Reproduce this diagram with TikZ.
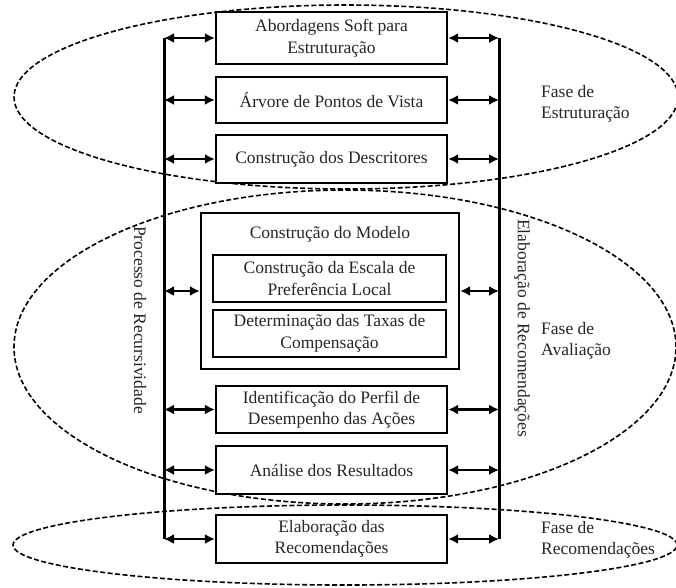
\documentclass[tikz,border=0pt]{standalone}
\usepackage{fontspec}
\setmainfont{Liberation Serif}
\usetikzlibrary{arrows.meta}

\begin{document}
\begin{tikzpicture}[x=1pt,y=-1pt,
  txt/.style={font=\fontsize{17.5}{21.5}\selectfont, text=black!85},
  box/.style={txt, draw=black, line width=2.2pt, fill=white, minimum width=231pt,
    align=center, inner sep=0pt},
  phase/.style={dash pattern=on 5pt off 2.5pt, line width=1.6pt},
  link/.style={{Latex[length=10pt,width=10pt]}-{Latex[length=10pt,width=10pt]},
    line width=2.6pt},
  rail/.style={line width=3pt},
  lbl/.style={txt, align=left, inner sep=0pt}
]
\useasboundingbox (0,0) rectangle (676,587);
\fill[white] (0,0) rectangle (676,587);

% dashed phase ellipses
\draw[phase] (346,97) ellipse [x radius=332pt, y radius=92pt];
\draw[phase] (345,347) ellipse [x radius=331pt, y radius=157pt];
\draw[phase] (345,545) ellipse [x radius=332pt, y radius=40pt];

% process steps
\node[box, minimum height=52pt] (A) at (331.5,38) {Abordagens Soft para\\Estruturação};
\node[box, minimum height=46pt] (B) at (331.5,100) {Árvore de Pontos de Vista};
\node[box, minimum height=48pt] (C) at (331.5,159) {Construção dos Descritores};
\node[box, minimum width=258pt, minimum height=156pt] (M) at (330,291) {};
\node[txt] (Mt) at (330,234) {Construção do Modelo};
\node[box, minimum width=233pt, minimum height=47pt] (M1) at (329.5,278.5)
  {Construção da Escala de\\Preferência Local};
\node[box, minimum width=233pt, minimum height=47pt] (M2) at (329.5,333.5)
  {Determinação das Taxas de\\Compensação};
\node[box, minimum height=47pt] (D) at (331.5,409.5) {Identificação do Perfil de\\Desempenho das Ações};
\node[box, minimum height=48pt] (E) at (331.5,470) {Análise dos Resultados};
\node[box, minimum height=48pt] (F) at (331.5,539) {Elaboração das\\Recomendações};

% side rails
\coordinate (Ltop) at (164,38);
\coordinate (Lbot) at (164,539);
\coordinate (Rtop) at (499,38);
\coordinate (Rbot) at (499,539);
\draw[rail] (Ltop) -- (Lbot);
\draw[rail] (Rtop) -- (Rbot);

\foreach \n in {A,B,C,M,D,E,F}{
  \draw[link] (Ltop |- \n.west) -- (\n.west);
  \draw[link] (\n.east) -- (Rtop |- \n.east);
}

% rail captions
\node[lbl, rotate=-90] (pr) at (140,320) {Processo de Recursividade};
\node[lbl, rotate=-90] (er) at (522,328) {Elaboração de Recomendações};

% phase captions
\node[lbl, anchor=west] (fe) at (541,104) {Fase de\\Estruturação};
\node[lbl, anchor=west] (fa) at (541,341) {Fase de\\Avaliação};
\node[lbl, anchor=west] (fr) at (541,540) {Fase de\\Recomendações};
\end{tikzpicture}
\end{document}
